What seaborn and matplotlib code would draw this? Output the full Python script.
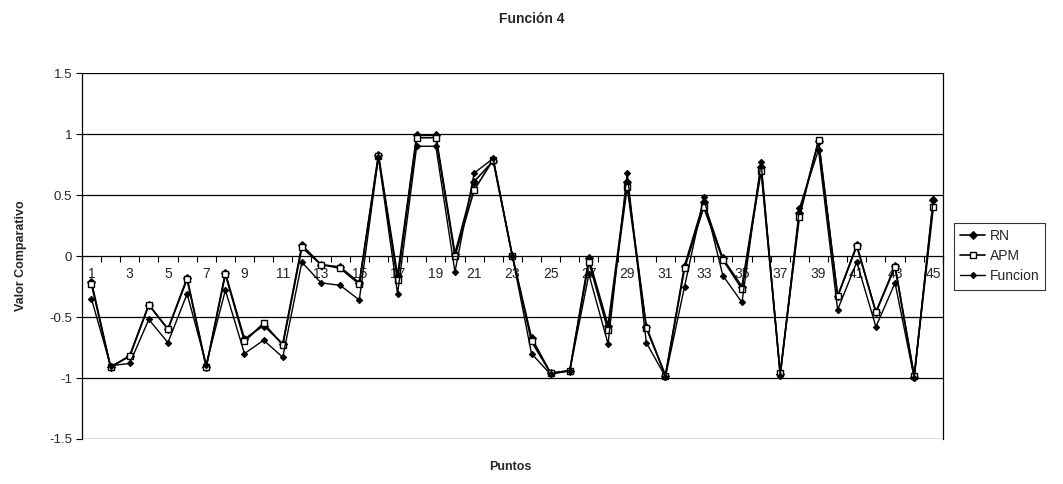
import numpy as np
import pandas as pd
import matplotlib
matplotlib.use("Agg")
import matplotlib.pyplot as plt
import seaborn as sns
from matplotlib.ticker import FixedLocator

sns.set_theme(style="white")
plt.rcParams['font.family'] = ['Liberation Sans', 'DejaVu Sans']

puntos = list(range(1, 46))
rn = [-0.21, -0.91, -0.82, -0.40, -0.60, -0.18, -0.91, -0.14, -0.68, -0.57,
      -0.72, 0.09, -0.07, -0.09, -0.22, 0.83, -0.16, 0.99, 0.99, 0.02,
      0.61, 0.78, 0.00, -0.67, -0.96, -0.94, -0.02, -0.57, 0.61, -0.58,
      -0.98, -0.08, 0.44, -0.02, -0.25, 0.73, -0.97, 0.35, 0.94, -0.33,
      0.09, -0.46, -0.08, -0.99, 0.46]
apm = [-0.23, -0.91, -0.82, -0.40, -0.60, -0.19, -0.91, -0.15, -0.70, -0.55,
       -0.73, 0.07, -0.07, -0.10, -0.23, 0.82, -0.20, 0.97, 0.97, 0.00,
       0.54, 0.79, 0.00, -0.70, -0.96, -0.94, -0.05, -0.61, 0.57, -0.59,
       -0.98, -0.10, 0.40, -0.03, -0.27, 0.70, -0.96, 0.32, 0.95, -0.33,
       0.08, -0.46, -0.09, -0.98, 0.40]
funcion = [-0.35, -0.90, -0.88, -0.52, -0.71, -0.31, -0.89, -0.28, -0.80, -0.69,
           -0.83, -0.05, -0.22, -0.24, -0.36, 0.81, -0.31, 0.90, 0.90, -0.13,
           0.68, 0.80, 0.00, -0.80, -0.97, -0.94, -0.15, -0.72, 0.68, -0.71,
           -0.99, -0.25, 0.48, -0.16, -0.38, 0.77, -0.98, 0.39, 0.87, -0.44,
           -0.05, -0.58, -0.22, -1.00, 0.47]
series_names = ["RN", "APM", "Funcion"]
tick_labels = [str(i) for i in range(1, 46, 2)]

fig = plt.figure(figsize=(10.63, 4.84), dpi=100)
ax = fig.add_axes([0.077, 0.093, 0.81, 0.756])

df_rn = pd.DataFrame({"Puntos": puntos, "v": rn})
df_apm = pd.DataFrame({"Puntos": puntos, "v": apm})
df_fn = pd.DataFrame({"Puntos": puntos, "v": funcion})

sns.lineplot(data=df_rn, x="Puntos", y="v", ax=ax, color="black", lw=1.2,
             marker="D", markersize=4, markerfacecolor="black",
             markeredgecolor="black", label=series_names[0])
sns.lineplot(data=df_apm, x="Puntos", y="v", ax=ax, color="black", lw=1.2,
             marker="s", markersize=4, markerfacecolor="white",
             markeredgecolor="black", markeredgewidth=1.0, label=series_names[1])
sns.lineplot(data=df_fn, x="Puntos", y="v", ax=ax, color="black", lw=1.0,
             marker="D", markersize=3.2, markerfacecolor="black",
             markeredgecolor="black", label=series_names[2])

ax.set_xlim(0.5, 45.5)
ax.set_ylim(-1.5, 1.5)
ax.set_yticks([-1.5, -1, -0.5, 0, 0.5, 1, 1.5])
ax.set_yticklabels(["-1.5", "-1", "-0.5", "0", "0.5", "1", "1.5"], fontsize=9.5)
ax.tick_params(axis="y", which="major", length=4, width=0.8, direction="out",
               left=True, color="black", pad=3)

for y in [-1.5, -1, -0.5, 0.5, 1, 1.5]:
    ax.axhline(y, color="black", lw=0.9, zorder=0)

# category axis at y=0
ax.spines["bottom"].set_position(("data", 0))
ax.spines["bottom"].set_color("black")
ax.spines["bottom"].set_linewidth(0.9)
ax.set_xticks(list(range(1, 46, 2)))
ax.set_xticklabels(tick_labels, fontsize=10)
ax.xaxis.set_minor_locator(FixedLocator(np.arange(0.5, 46, 1)))
ax.tick_params(axis="x", which="major", length=0, pad=8)
ax.tick_params(axis="x", which="minor", length=4, width=0.8, direction="out",
               bottom=True, color="black")

ax.spines["left"].set_color("black")
ax.spines["left"].set_linewidth(0.9)
ax.spines["right"].set_color("black")
ax.spines["right"].set_linewidth(0.9)
ax.spines["top"].set_visible(False)

ax.set_xlabel("")
ax.set_ylabel("Valor Comparativo", fontsize=9, fontweight="bold", labelpad=16)
fig.text(0.48, 0.035, "Puntos", fontsize=9, fontweight="bold", ha="center", va="center")
fig.text(0.5, 0.96, "Función 4", fontsize=10, fontweight="bold", ha="center", va="center")

leg = ax.legend(loc="center left", bbox_to_anchor=(1.013, 0.5), fontsize=10,
                frameon=True, fancybox=False, edgecolor="black", borderpad=0.45,
                handlelength=1.8, labelspacing=0.45, handletextpad=0.3,
                borderaxespad=0)
leg.get_frame().set_linewidth(0.8)

fig.savefig("out.png", dpi=100, facecolor="white")
